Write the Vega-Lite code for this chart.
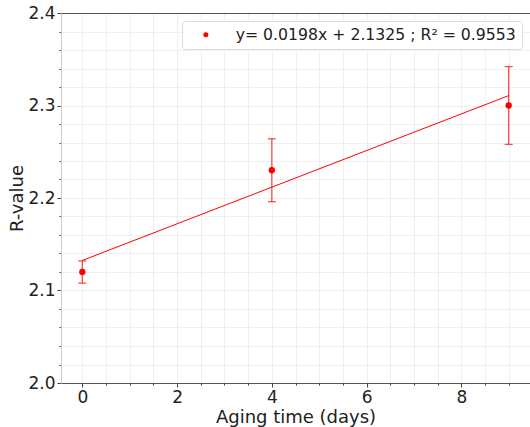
{
  "$schema": "https://vega.github.io/schema/vega-lite/v6.json",
  "width": 469,
  "height": 370,
  "autosize": {"type": "none"},
  "padding": {"left": 61, "top": 13, "right": 0, "bottom": 44},
  "config": {
    "view": {"stroke": null},
    "font": "DejaVu Sans",
    "axis": {"labelFont": "DejaVu Sans", "titleFont": "DejaVu Sans", "labelColor": "#222222", "titleColor": "#222222", "titleFontWeight": "normal", "gridColor": "#ebebeb", "gridWidth": 0.8, "tickColor": "#444444"}
  },
  "datasets": {
    "pts": [
      {"t": 0, "r": 2.12, "lo": 2.108, "hi": 2.132, "label": "y= 0.0198x + 2.1325 ; R² = 0.9553"},
      {"t": 4, "r": 2.23, "lo": 2.196, "hi": 2.264, "label": "y= 0.0198x + 2.1325 ; R² = 0.9553"},
      {"t": 9, "r": 2.30, "lo": 2.258, "hi": 2.342, "label": "y= 0.0198x + 2.1325 ; R² = 0.9553"}
    ],
    "fit": [
      {"t": 0, "fit": 2.1325},
      {"t": 9, "fit": 2.3107}
    ]
  },
  "layer": [
    {
      "data": {"name": "pts"},
      "mark": {"type": "point", "shape": "circle", "filled": true, "size": 0, "opacity": 0},
      "encoding": {
        "x": {"field": "t", "type": "quantitative", "scale": {"domain": [-0.45, 9.45], "nice": false, "zero": false},
          "axis": {"orient": "bottom", "title": "Aging time (days)", "titleFontSize": 18, "titlePadding": 3,
            "values": [0, 0.5, 1, 1.5, 2, 2.5, 3, 3.5, 4, 4.5, 5, 5.5, 6, 6.5, 7, 7.5, 8, 8.5, 9],
            "labelExpr": "datum.value % 2 === 0 ? format(datum.value, 'd') : ''",
            "labelOverlap": false, "labelFlush": false, "labelFontSize": 17, "labelPadding": 2,
            "tickSize": {"condition": {"test": "datum.value % 2 === 0", "value": 4}, "value": 2},
            "grid": true, "domainColor": "#555555", "domainWidth": 1.2}},
        "y": {"field": "r", "type": "quantitative", "scale": {"domain": [2.0, 2.4], "nice": false, "zero": false},
          "axis": {"title": "R-value", "titleFontSize": 18, "titlePadding": 1,
            "values": [2.0, 2.02, 2.04, 2.06, 2.08, 2.1, 2.12, 2.14, 2.16, 2.18, 2.2, 2.22, 2.24, 2.26, 2.28, 2.3, 2.32, 2.34, 2.36, 2.38, 2.4],
            "labelExpr": "abs(datum.value * 10 - round(datum.value * 10)) < 0.001 ? format(datum.value, '.1f') : ''",
            "labelOverlap": false, "labelFlush": false, "labelFontSize": 17, "labelPadding": 2,
            "tickSize": {"condition": {"test": "abs(datum.value * 10 - round(datum.value * 10)) < 0.001", "value": 4}, "value": 2},
            "grid": true, "domainColor": "#cccccc", "domainWidth": 1}}
      }
    },
    {
      "data": {"name": "fit"},
      "mark": {"type": "line", "color": "#ff0000", "strokeWidth": 1},
      "encoding": {
        "x": {"field": "t", "type": "quantitative",
          "axis": {"orient": "top", "labels": false, "ticks": false, "grid": false, "domain": true, "domainColor": "#555555", "domainWidth": 1.2, "title": null}},
        "y": {"field": "fit", "type": "quantitative", "axis": null}
      }
    },
    {
      "data": {"name": "pts"},
      "mark": {"type": "rule", "color": "#ff0000", "opacity": 0.75, "strokeWidth": 1.2},
      "encoding": {
        "x": {"field": "t", "type": "quantitative", "axis": null},
        "y": {"field": "lo", "type": "quantitative", "axis": null},
        "y2": {"field": "hi"}
      }
    },
    {
      "data": {"name": "pts"},
      "mark": {"type": "tick", "orient": "horizontal", "color": "#ff0000", "opacity": 0.75, "size": 8, "thickness": 1.2},
      "encoding": {
        "x": {"field": "t", "type": "quantitative", "axis": null},
        "y": {"field": "lo", "type": "quantitative", "axis": null}
      }
    },
    {
      "data": {"name": "pts"},
      "mark": {"type": "tick", "orient": "horizontal", "color": "#ff0000", "opacity": 0.75, "size": 8, "thickness": 1.2},
      "encoding": {
        "x": {"field": "t", "type": "quantitative", "axis": null},
        "y": {"field": "hi", "type": "quantitative", "axis": null}
      }
    },
    {
      "data": {"name": "pts"},
      "mark": {"type": "point", "shape": "circle", "filled": true, "size": 40, "opacity": 1},
      "encoding": {
        "x": {"field": "t", "type": "quantitative", "axis": null},
        "y": {"field": "r", "type": "quantitative", "axis": null},
        "color": {"field": "label", "type": "nominal", "scale": {"range": ["#ff0000"]},
          "legend": {"orient": "top-right", "offset": 8, "title": null, "labelFontSize": 15.7, "labelColor": "#222222", "labelLimit": 500,
            "fillColor": "white", "strokeColor": "#dddddd", "cornerRadius": 3, "padding": 6,
            "symbolType": "circle", "symbolSize": 25, "symbolStrokeWidth": 0, "symbolOffset": 10, "labelOffset": 22}}
      }
    }
  ],
  "resolve": {"axis": {"x": "independent", "y": "independent"}}
}
